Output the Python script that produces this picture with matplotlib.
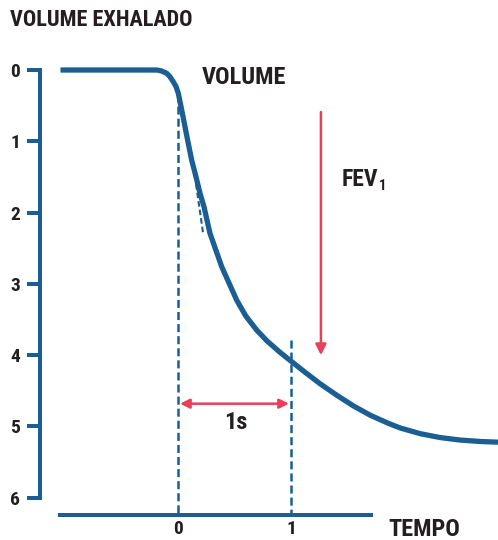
import matplotlib
matplotlib.use('Agg')
import matplotlib.pyplot as plt
from matplotlib import font_manager

# exhaled volume curve (time in s, volume in L)
tempo = [-1.04, -0.6, -0.186, -0.144, -0.1, -0.071, -0.042, -0.018, 0.003, 0.033,
         0.062, 0.091, 0.121, 0.159, 0.195, 0.23, 0.283, 0.387, 0.519, 0.6,
         0.696, 0.788, 0.903, 1.006, 1.109, 1.257, 1.404, 1.551, 1.699, 1.861,
         1.965, 2.142, 2.319, 2.496, 2.673, 2.832]
volume = [0, 0, 0, 0.014, 0.046, 0.094, 0.164, 0.23, 0.327, 0.561,
          0.795, 1.028, 1.262, 1.496, 1.729, 1.917, 2.29, 2.759, 3.226, 3.45,
          3.647, 3.80, 3.96, 4.09, 4.22, 4.40, 4.56, 4.71, 4.84, 4.955,
          5.02, 5.10, 5.155, 5.19, 5.21, 5.22]

y_ticks = [0, 1, 2, 3, 4, 5, 6]
x_ticks = [0, 1]
x_labels = ['0', '1']

# tangent at the start of the blow
tang_t = [0.16, 0.224]
tang_v = [1.6, 2.31]

fev1 = 4.0

BLUE = '#1b5e93'
RED = '#e8405a'
INK = '#231f20'

names = {f.name for f in font_manager.fontManager.ttflist}
FONT = [n for n in ['Roboto Condensed', 'Liberation Sans Narrow', 'Open Sans Condensed',
                    'DejaVu Sans'] if n in names]

plt.rcParams['font.family'] = FONT
plt.rcParams['font.weight'] = 'bold'
plt.rcParams['font.stretch'] = 'condensed'
plt.rcParams['lines.scale_dashes'] = False

fig = plt.figure(figsize=(4.98, 5.40), dpi=100)
ax = fig.add_axes([0, 0, 1, 1])
ax.set_xlim(-1.575, 2.832)
ax.set_ylim(6.592, -0.982)
ax.patch.set_visible(False)

for s in ['top', 'right']:
    ax.spines[s].set_visible(False)
ax.spines['left'].set_position(('data', -1.22))
ax.spines['left'].set_bounds(0, 6)
ax.spines['bottom'].set_position(('data', 6.24))
ax.spines['bottom'].set_bounds(-1.04, 1.71)
for s in ['left', 'bottom']:
    ax.spines[s].set_linewidth(2.9)
    ax.spines[s].set_color(BLUE)

ax.set_yticks(y_ticks)
ax.set_yticklabels([str(v) for v in y_ticks])
ax.set_xticks(x_ticks)
ax.set_xticklabels(x_labels)
ax.tick_params(axis='y', direction='out', length=9.4, width=2.9, color=BLUE,
               pad=5, labelsize=14, labelcolor=INK)
ax.tick_params(axis='x', length=0, pad=4, labelsize=14, labelcolor=INK)
for lab in ax.get_xticklabels() + ax.get_yticklabels():
    lab.set_fontweight('bold')

# dashed guides
ax.plot([0, 0], [0.33, 6.24], color=BLUE, lw=1.8, ls=(0, (5.8, 2.9)))
ax.plot([1, 1], [3.79, 6.24], color=BLUE, lw=1.8, ls=(0, (5.8, 2.9)))
ax.plot(tang_t, tang_v, color=BLUE, lw=1.5, ls=(0, (4, 2.2)))

ax.plot(tempo, volume, color=BLUE, lw=3.8, solid_capstyle='butt', solid_joinstyle='round')

# FEV1 arrow and 1 s arrow
ax.annotate('', xy=(1.265, fev1), xytext=(1.265, 0.59),
            arrowprops=dict(arrowstyle='-|>', color=RED, lw=1.8,
                            mutation_scale=16, shrinkA=0, shrinkB=0))
ax.annotate('', xy=(0.982, 4.68), xytext=(0.018, 4.68),
            arrowprops=dict(arrowstyle='<|-|>', color=RED, lw=1.8,
                            mutation_scale=14, shrinkA=0, shrinkB=0))

ax.text(0.51, 4.95, '1s', ha='center', va='center', fontsize=17.5, color=INK)
fev = ax.text(1.45, 1.53, 'FEV', ha='left', va='center', fontsize=17, color=INK)
ax.annotate('1', xy=(1, 0), xycoords=fev, xytext=(0.5, -2), textcoords='offset points',
            ha='left', va='bottom', fontsize=10.5, color=INK, fontweight='bold')
ax.text(0.212, 0.11, 'VOLUME', ha='left', va='center', fontsize=17.5, color=INK)
ax.text(1.858, 6.44, 'TEMPO', ha='left', va='center', fontsize=17.5, color=INK)
fig.text(10 / 498, 1 - 20 / 540, 'VOLUME EXHALADO', ha='left', va='center',
         fontsize=16, color=INK, fontweight='bold')

fig.savefig('out.png', dpi=100)
